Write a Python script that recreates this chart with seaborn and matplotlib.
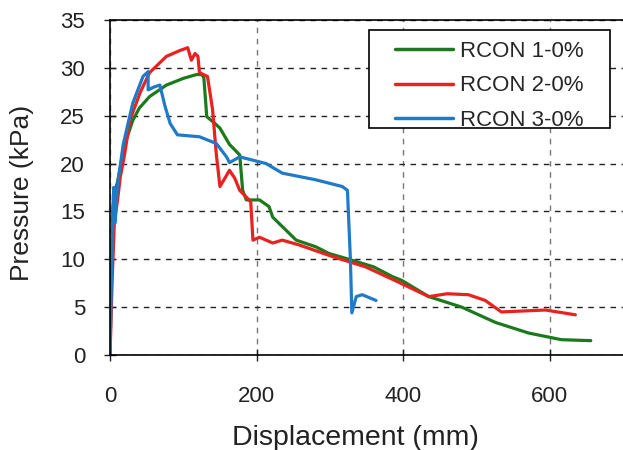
import matplotlib
matplotlib.use("Agg")
import matplotlib.pyplot as plt
import pandas as pd
import seaborn as sns
from matplotlib.patches import Rectangle

# values
rcon1_x = [0, 2, 4, 6, 10, 15, 20, 31, 40, 54, 77, 100, 118, 125, 128, 132, 143, 150, 163,
           177, 181, 186, 204, 217, 222, 254, 281, 299, 326, 360, 385, 398, 435, 480, 526,
           571, 616, 656]
rcon1_y = [0, 10, 15.5, 17, 18, 20, 22, 24.5, 25.8, 27, 28.2, 28.9, 29.3, 29.3, 29, 24.9,
           24.2, 23.7, 22, 20.9, 17.2, 16.2, 16.2, 15.5, 14.4, 12.0, 11.3, 10.6, 10, 9.2, 8.2,
           7.8, 6.1, 5.0, 3.4, 2.3, 1.6, 1.5]

rcon2_x = [0, 3, 6, 10, 14, 20, 27, 41, 54, 77, 95, 106, 111, 116, 120, 122, 133, 140, 145,
           150, 157, 163, 170, 177, 186, 192, 195, 204, 222, 235, 258, 303, 349, 394, 435,
           460, 489, 512, 534, 594, 635]
rcon2_y = [0, 8, 14, 16, 18.6, 21, 24.5, 27.4, 29.5, 31.2, 31.8, 32.1, 30.8, 31.5, 31.2,
           29.5, 29.1, 25.6, 21, 17.6, 18.5, 19.3, 18.5, 17.2, 16.5, 16.0, 12.0, 12.3, 11.7,
           12.0, 11.5, 10.3, 9.2, 7.6, 6.1, 6.4, 6.3, 5.7, 4.5, 4.7, 4.2]

rcon3_x = [0, 2, 4, 5, 7, 10, 18, 31, 45, 52, 52, 60, 68, 75, 82, 92, 122, 145, 159, 163,
           177, 213, 235, 281, 317, 324, 328, 330, 336, 344, 363]
rcon3_y = [0, 8, 15, 17.5, 13.8, 17.6, 22, 26.3, 29.1, 29.6, 27.7, 28.0, 28.2, 26, 24.2, 23,
           22.8, 22.1, 20.7, 20.1, 20.7, 20.0, 19.0, 18.3, 17.6, 17.2, 10, 4.4, 6.1, 6.3, 5.7]

labels = ["RCON 1-0%", "RCON 2-0%", "RCON 3-0%"]
colors = ["#1b7a1b", "#e8221e", "#1f7ac8"]

frames = []
for name, xs, ys in zip(labels, [rcon1_x, rcon2_x, rcon3_x], [rcon1_y, rcon2_y, rcon3_y]):
    frames.append(pd.DataFrame({"x": xs, "y": ys, "series": name}))
df = pd.concat(frames, ignore_index=True)

sns.set_style("ticks")
plt.rcParams["font.family"] = ["Liberation Sans", "DejaVu Sans"]

fig = plt.figure(figsize=(6.23, 4.5), dpi=100)
ax = fig.add_axes([0.1766, 0.2111, 0.8234, 0.7445])

sns.lineplot(data=df, x="x", y="y", hue="series", palette=colors, sort=False,
             estimator=None, units="series", linewidth=2.3, ax=ax)

ax.set_xlim(0, 700)
ax.set_ylim(0, 35)
ax.set_xticks([0, 200, 400, 600])
ax.set_yticks(range(0, 36, 5))
ax.xaxis.grid(True, linestyle=(0, (4, 4)), color="#777777", linewidth=1.0)
ax.yaxis.grid(True, linestyle=(0, (4, 4)), color="#222222", linewidth=1.0)
ax.set_axisbelow(True)
for side in ["left", "bottom", "top"]:
    ax.spines[side].set_color("black")
    ax.spines[side].set_linewidth(1.2)
ax.spines["right"].set_visible(False)
ax.tick_params(labelsize=16, colors="#222222", direction="inout", length=8, width=1)
ax.tick_params(axis="x", pad=18)
ax.tick_params(axis="y", pad=14)

ax.set_xlabel("Displacement (mm)", fontsize=20.5, color="#222222")
ax.set_ylabel("Pressure (kPa)", fontsize=19, color="#222222")
ax.xaxis.set_label_coords(0.478, -0.208)
ax.yaxis.set_label_coords(-0.148, 0.484)

# legend box: wider side padding than matplotlib's uniform borderpad allows
ax.add_patch(Rectangle((0.505, 0.678), 0.47, 0.292, transform=ax.transAxes,
                       facecolor="white", edgecolor="black", linewidth=1.2, zorder=3))
leg = ax.legend(loc="upper left", bbox_to_anchor=(0.556, 0.938), fontsize=16,
                frameon=False, handlelength=2.6, handletextpad=0.32, borderpad=0,
                labelspacing=0.61, borderaxespad=0)
leg.set_zorder(4)
for line in leg.get_lines():
    line.set_linewidth(2.5)

fig.savefig("out.png", dpi=100)
